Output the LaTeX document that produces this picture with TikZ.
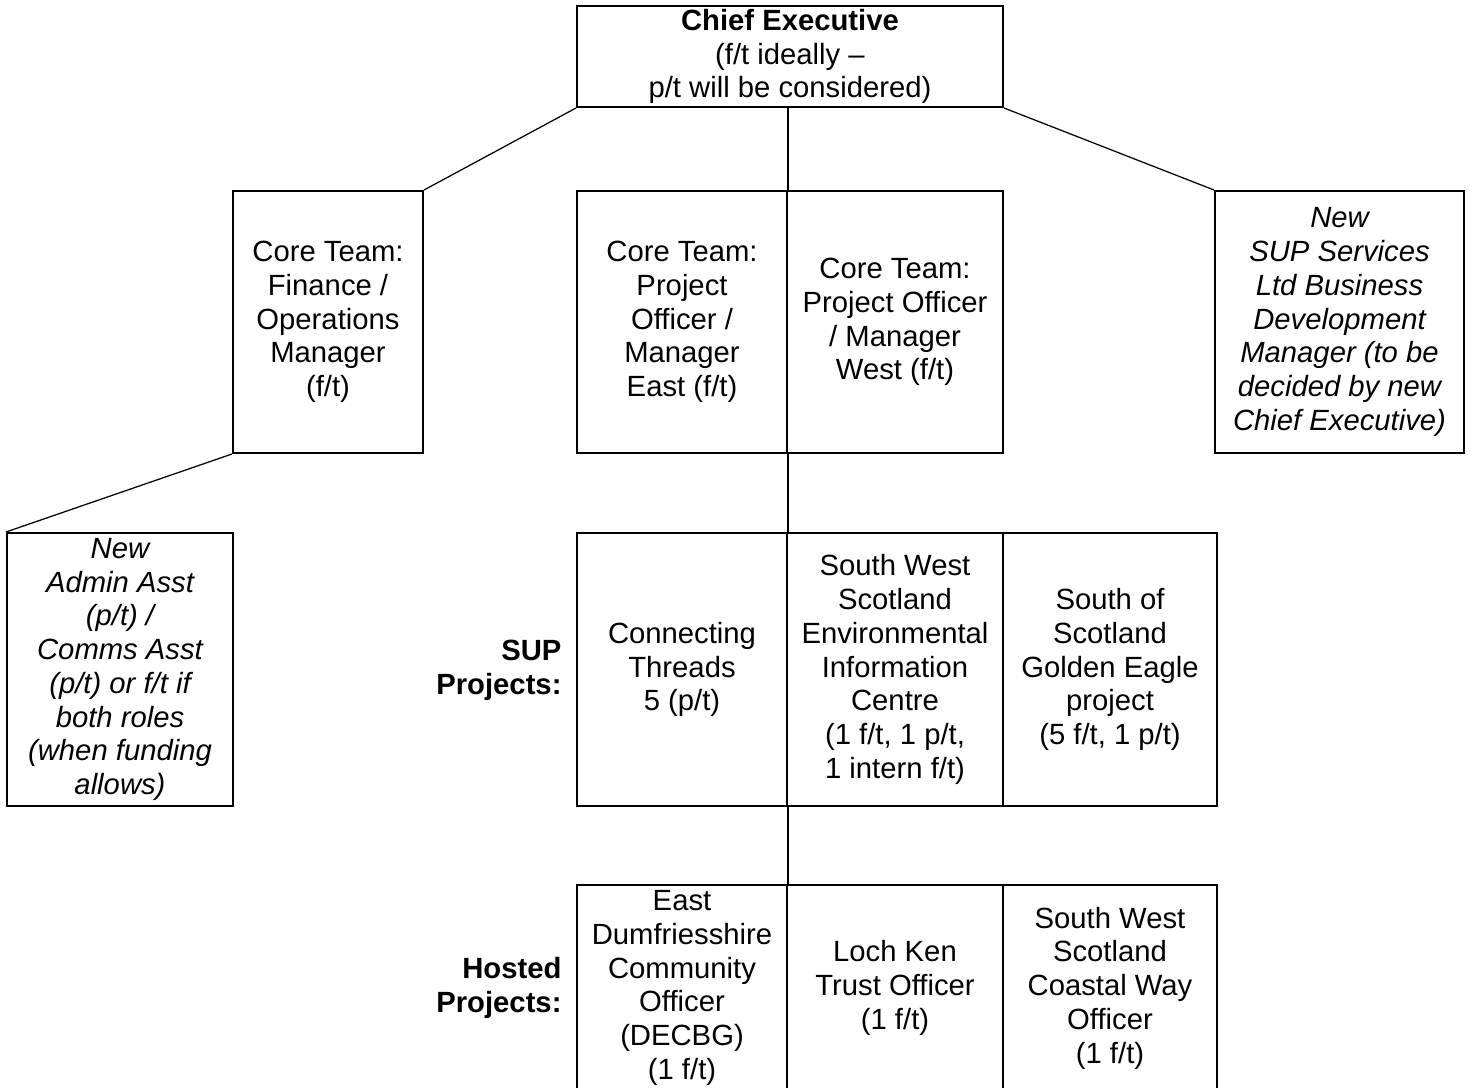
\documentclass[tikz,border=0pt]{standalone}
\usepackage{fontspec}
\setmainfont{Liberation Sans}
\usetikzlibrary{calc}

\begin{document}
\begin{tikzpicture}[x=0.4pt, y=-0.4pt,
    box/.style 2 args={draw, line width=0.8pt, inner sep=0pt, align=center,
        minimum width=#1*0.4pt, minimum height=#2*0.4pt,
        font=\fontsize{11.7}{13.5}\selectfont},
    newbox/.style 2 args={box={#1}{#2}, font=\fontsize{11.7}{13.5}\selectfont\itshape},
    rowlabel/.style={anchor=east, align=right, inner sep=0pt,
        font=\fontsize{11.7}{13.5}\selectfont\bfseries},
    link/.style={line width=0.5pt}]

    % Fix the page to the size of the chart
    \useasboundingbox (0,0) rectangle (1472,1087);
    \clip (0,0) rectangle (1472,1087);

    % Top of the chart
    \node (chief) at (790,56.5) [box={426}{101}]
        {\textbf{Chief Executive}\\(f/t ideally –\\p/t will be considered)};

    % Core team and new posts
    \node (fin) at (328,322) [box={190}{262}]
        {Core Team:\\Finance /\\Operations\\Manager\\(f/t)};
    \node (east) at (682,322) [box={210}{262}]
        {Core Team:\\Project\\Officer /\\Manager\\East (f/t)};
    \node (west) at (895,322) [box={216}{262}]
        {Core Team:\\Project Officer\\/ Manager\\West (f/t)};
    \node (biz) at (1339.5,322) [newbox={249}{262}]
        {New\\SUP Services\\Ltd Business\\Development\\Manager (to be\\decided by new\\Chief Executive)};
    \node (admin) at (120,669.5) [newbox={226}{273}]
        {New\\Admin Asst\\(p/t) /\\Comms Asst\\(p/t) or f/t if\\both roles\\(when funding\\allows)};

    % SUP projects row
    \node (suplabel) at (562,670) [rowlabel] {SUP\\Projects:};
    \node (ct) at (682,669.5) [box={210}{273}]
        {Connecting\\Threads\\5 (p/t)};
    \node (swe) at (895,669.5) [box={216}{273}]
        {South West\\Scotland\\Environmental\\Information\\Centre\\(1 f/t, 1 p/t,\\1 intern f/t)};
    \node (sge) at (1110,669.5) [box={214}{273}]
        {South of\\Scotland\\Golden Eagle\\project\\(5 f/t, 1 p/t)};

    % Hosted projects row (runs off the bottom of the page)
    \node (hostlabel) at (562,988) [rowlabel] {Hosted\\Projects:};
    \node (ed) at (682,988) [box={210}{206}]
        {East\\Dumfriesshire\\Community\\Officer\\(DECBG)\\(1 f/t)};
    \node (lk) at (895,988) [box={216}{206}]
        {Loch Ken\\Trust Officer\\(1 f/t)};
    \node (cw) at (1110,988) [box={214}{206}]
        {South West\\Scotland\\Coastal Way\\Officer\\(1 f/t)};

    % Connecting lines
    \draw[link] (chief.south west) -- (fin.north east);
    \draw[link] (chief.south east) -- (biz.north west);
    \draw[link] (east.north east |- chief.south) -- (east.north east);
    \draw[link] (fin.south west) -- (admin.north west);
    \draw[link] (east.south east) -- (ct.north east);
    \draw[link] (ct.south east) -- (ed.north east);
\end{tikzpicture}
\end{document}
